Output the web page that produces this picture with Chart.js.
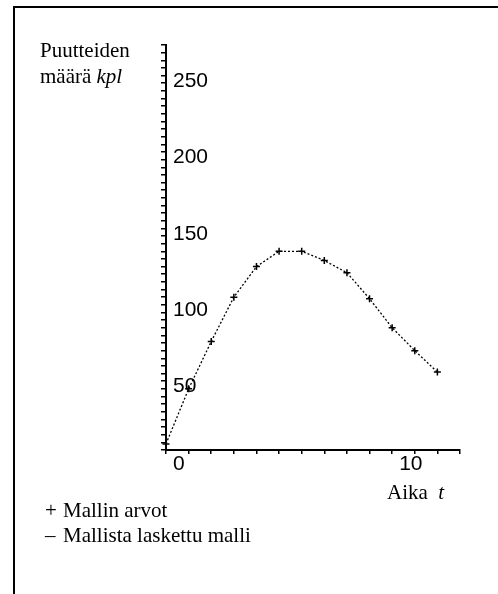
<!DOCTYPE html>
<html lang="fi">
<head>
    <meta charset="UTF-8">
    <title>Puutteiden määrä</title>
    <script src="https://cdn.jsdelivr.net/npm/chart.js"></script>
    <style>
        body { margin: 0; background: #fff; }
        .page { position: relative; width: 498px; height: 594px; overflow: hidden; }
        .frame { position: absolute; left: 13px; top: 6px; right: -10px; bottom: -10px;
                 border-left: 2px solid #000; border-top: 2px solid #000; }
        canvas { position: absolute; left: 0; top: 0; }
        .txt { position: absolute; font-family: "Liberation Serif", "Times New Roman", serif;
               font-size: 21px; color: #000; white-space: nowrap; }
        .ytitle { left: 40px; top: 37px; line-height: 26px; }
        .xtitle { left: 387px; top: 482px; line-height: 20px; }
        .legend { left: 45px; top: 498px; line-height: 25px; }
        .legend .sym { display: inline-block; width: 18px; }
    </style>
</head>
<body>
<div class="page">
    <div class="frame"></div>
    <canvas id="chart" width="498" height="594"></canvas>
    <div class="txt ytitle">Puutteiden<br>määrä <i>kpl</i></div>
    <div class="txt xtitle">Aika&nbsp; <i>t</i></div>
    <div class="txt legend">
        <div><span class="sym">+</span>Mallin arvot</div>
        <div><span class="sym">–</span>Mallista laskettu malli</div>
    </div>
</div>

<script>
    // aika t ja mallin arvot (kpl)
    const times = [0, 1, 2, 3, 4, 5, 6, 7, 8, 9, 10, 11, 12];
    const values = [4, 40, 71, 100, 120, 130, 130, 124, 116, 99, 80, 65, 51];
    const yLabels = [50, 100, 150, 200, 250];
    const xLabels = [0, 10];

    const points = times.map((t, i) => ({ x: t, y: values[i] }));

    new Chart(document.getElementById('chart'), {
        type: 'scatter',
        data: {
            datasets: [
                {
                    label: 'Mallista laskettu malli',
                    data: points,
                    showLine: true,
                    borderColor: '#000',
                    borderWidth: 1.3,
                    borderDash: [2, 2],
                    pointRadius: 0,
                    tension: 0
                },
                {
                    label: 'Mallin arvot',
                    data: points,
                    showLine: false,
                    pointStyle: 'cross',
                    pointRadius: 3.5,
                    pointBorderWidth: 1.5,
                    borderColor: '#000',
                    backgroundColor: '#000'
                }
            ]
        },
        options: {
            responsive: false,
            animation: false,
            devicePixelRatio: 1,
            clip: false,
            layout: { padding: { left: 160, top: 45, right: 38, bottom: 104 } },
            plugins: { legend: { display: false }, tooltip: { enabled: false } },
            scales: {
                x: {
                    type: 'linear',
                    min: 0,
                    max: 13,
                    afterFit: scale => { scale.height = 40; },
                    border: { color: '#000', width: 2 },
                    grid: { drawOnChartArea: false, color: '#000', tickLength: 4, lineWidth: 1.5 },
                    ticks: {
                        stepSize: 1,
                        autoSkip: false,
                        maxRotation: 0,
                        align: 'start',
                        labelOffset: 7,
                        padding: -2,
                        color: '#000',
                        font: { family: 'Liberation Sans', size: 21 },
                        callback: v => xLabels.includes(v) ? String(v) : ''
                    }
                },
                y: {
                    type: 'linear',
                    min: 0,
                    max: 265,
                    afterFit: scale => { scale.width = 6; },
                    border: { color: '#000', width: 2 },
                    grid: { drawOnChartArea: false, color: '#000', tickLength: 5, lineWidth: 1.5 },
                    ticks: {
                        stepSize: 5,
                        autoSkip: false,
                        maxTicksLimit: 100,
                        mirror: true,
                        padding: 7,
                        labelOffset: 13,
                        color: '#000',
                        font: { family: 'Liberation Sans', size: 21 },
                        callback: v => yLabels.includes(v) ? String(v) : ''
                    }
                }
            }
        }
    });
</script>
</body>
</html>
